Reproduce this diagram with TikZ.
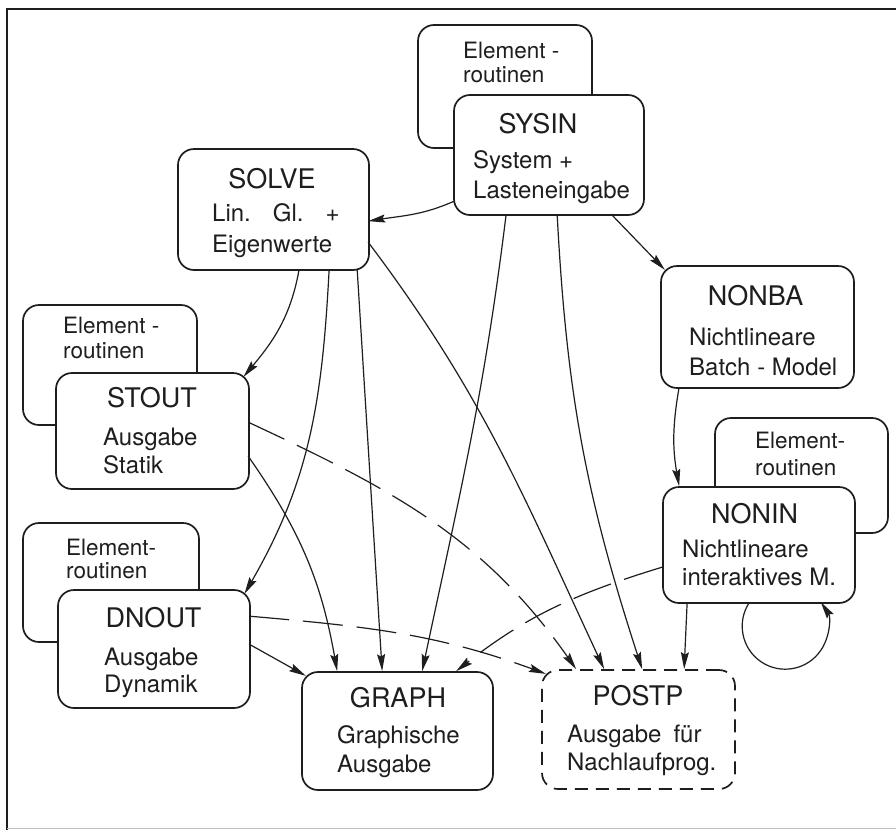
\documentclass[tikz,border=0pt]{standalone}
\usepackage{fontspec}
\setmainfont{TeX Gyre Heros}
\usetikzlibrary{arrows.meta}
\definecolor{ink}{RGB}{30,30,30}
\definecolor{framegrey}{RGB}{190,190,190}
\begin{document}
\begin{tikzpicture}[x=1pt,y=1pt,
  box/.style={draw=ink, line width=1.7pt, rounded corners=16pt, fill=white, inner sep=0pt},
  dbox/.style={box, dash pattern=on 13pt off 8pt},
  conn/.style={draw=ink, line width=1.2pt, -{Stealth[length=17pt,width=8pt,inset=2.5pt]}},
  dconn/.style={conn, dash pattern=on 40pt off 14pt},
  ttl/.style={font=\fontsize{27}{27}\selectfont, anchor=base, inner sep=0pt, text=ink},
  bt/.style={font=\fontsize{24}{24}\selectfont, anchor=base west, inner sep=0pt, text=ink},
  et/.style={font=\fontsize{22.5}{22.5}\selectfont, anchor=base west, inner sep=0pt, text=ink}]
\useasboundingbox (0,0) rectangle (896,-830);
\fill[white] (0,0) rectangle (896,-830);
% frame
\draw[ink, line width=2pt] (896,-9) -- (7,-9) -- (7,-830);
\draw[framegrey, line width=1pt] (7,-828) -- (896,-828);

% element boxes (behind)
\node[box, minimum width=174pt, minimum height=123pt] (sysinE) at (505,-86.5) {};
\node[box, minimum width=174pt, minimum height=120pt] (stoutE) at (110,-365) {};
\node[box, minimum width=176pt, minimum height=119pt] (dnoutE) at (111,-582.5) {};
\node[box, minimum width=173pt, minimum height=115pt] (noninE) at (801.5,-475.5) {};

% main boxes
\node[box, minimum width=190pt, minimum height=120pt] (sysin) at (549,-155) {};
\node[box, minimum width=191pt, minimum height=121pt] (solve) at (273.5,-209.5) {};
\node[box, minimum width=193pt, minimum height=116pt] (stout) at (152.5,-431) {};
\node[box, minimum width=192pt, minimum height=118pt] (dnout) at (154,-649) {};
\node[box, minimum width=191pt, minimum height=118pt] (graph) at (397.5,-731) {};
\node[dbox, minimum width=193pt, minimum height=119pt] (postp) at (638.5,-729.5) {};
\node[box, minimum width=192pt, minimum height=116pt] (nonin) at (759,-545) {};
\node[box, minimum width=193pt, minimum height=122pt] (nonba) at (757.5,-327) {};

% texts
\node[et] (sysinE1) at (463,-58) {Element -};
\node[et] (sysinE2) at (463,-82) {routinen};
\node[ttl] (sysinT) at (538,-133) {SYSIN};
\node[bt] (sysin1) at (473,-168) {System +};
\node[bt] (sysin2) at (473,-198) {Lasteneingabe};

\node[ttl] (solveT) at (272,-188) {SOLVE};
\node[bt] (solve1) at (212,-221) {Lin.\hspace{22pt}Gl.\hspace{22pt}+};
\node[bt] (solve2) at (212,-252) {Eigenwerte};

\node[et] (stoutE1) at (63,-333) {Element -};
\node[et] (stoutE2) at (63,-358) {routinen};
\node[ttl] (stoutT) at (152,-407) {STOUT};
\node[bt] (stout1) at (103,-445) {Ausgabe};
\node[bt] (stout2) at (103,-473) {Statik};

\node[et] (dnoutE1) at (66,-555) {Element-};
\node[et] (dnoutE2) at (66,-578) {routinen};
\node[ttl] (dnoutT) at (153.5,-627) {DNOUT};
\node[bt] (dnout1) at (104,-665) {Ausgabe};
\node[bt] (dnout2) at (104,-692) {Dynamik};

\node[ttl] (graphT) at (398,-707) {GRAPH};
\node[bt] (graph1) at (337,-743) {Graphische};
\node[bt] (graph2) at (337,-772) {Ausgabe};

\node[ttl] (postpT) at (638,-705) {POSTP};
\node[bt] (postp1) at (567,-742) {Ausgabe\hspace{12pt}für};
\node[bt] (postp2) at (567,-770) {Nachlaufprog.};

\node[et] (noninE1) at (755,-448) {Element-};
\node[et] (noninE2) at (755,-475) {routinen};
\node[ttl] (noninT) at (754.5,-523) {NONIN};
\node[bt] (nonin1) at (682,-557) {Nichtlineare};
\node[bt] (nonin2) at (682,-585) {interaktives M.};

\node[ttl] (nonbaT) at (755.5,-305) {NONBA};
\node[bt] (nonba1) at (689,-345) {Nichtlineare};
\node[bt] (nonba2) at (689,-375) {Batch - Model};

% connectors
\draw[conn] ([shift={(1,-107)}]sysin.north west) to[out=204,in=9] ([shift={(191,-73)}]solve.north west);
\draw[conn] ([shift={(158,-120)}]sysin.north west) -- ([shift={(4.7,-4.7)}]nonba.north west);
\draw[conn] ([shift={(53,-120)}]sysin.north west) to[out=-97,in=78] ([shift={(121,0)}]graph.north west);
\draw[conn] ([shift={(104,-120)}]sysin.north west) to[out=-87,in=108] ([shift={(101,0)}]postp.north west);

\draw[conn] ([shift={(122,-121)}]solve.north west) to[out=-100,in=50] ([shift={(188.3,-4.7)}]stout.north west);
\draw[conn] ([shift={(152,-121)}]solve.north west) to[out=-93,in=60] ([shift={(187.3,-4.7)}]dnout.north west);
\draw[conn] ([shift={(180,-121)}]solve.north west) -- ([shift={(81,0)}]graph.north west);
\draw[conn] ([shift={(191,-94)}]solve.north west) to[out=-53,in=115] ([shift={(63,0)}]postp.north west);

\draw[conn] ([shift={(193,-84)}]stout.north west) to[out=-55,in=100] ([shift={(36,0)}]graph.north west);
\draw[dconn] ([shift={(193,-50)}]stout.north west) to[out=-25,in=125] ([shift={(35,0)}]postp.north west);

\draw[conn] ([shift={(192,-55)}]dnout.north west) -- ([shift={(4.7,-4.7)}]graph.north west);
\draw[dconn] ([shift={(192,-27)}]dnout.north west) to[out=-5,in=160] ([shift={(4.7,-4.7)}]postp.north west);

\draw[dconn] ([shift={(0,-81)}]nonin.north west) to[out=197,in=38] ([shift={(155,0)}]graph.north west);
\draw[conn] ([shift={(25,-116)}]nonin.north west) -- ([shift={(143,0)}]postp.north west);
\draw[conn] ([shift={(19,-122)}]nonba.north west) to[out=-100,in=100] ([shift={(17,0)}]nonin.north west);
\draw[conn] ([shift={(87.4,-116)}]nonin.north west) arc[start angle=146, end angle=394, radius=43];
\end{tikzpicture}
\end{document}
